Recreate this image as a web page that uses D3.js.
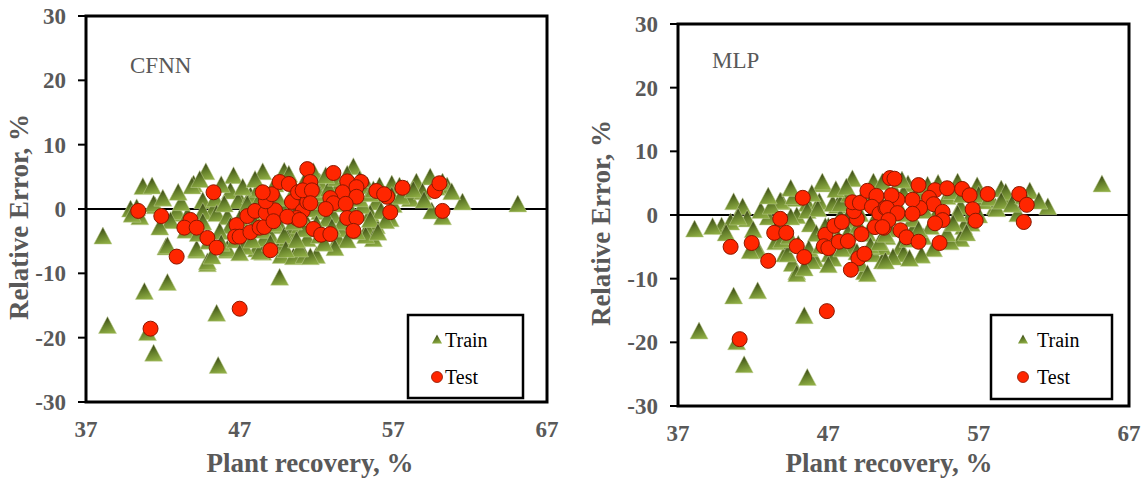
<!DOCTYPE html>
<html>
<head>
<meta charset="utf-8">
<title>Relative error vs plant recovery</title>
<style>
	body { margin: 0; background: #fff; }
	svg text { font-family: "Liberation Serif", "Times New Roman", serif; }
	.tick { fill: #595959; font-weight: bold; font-size: 23px; }
	.title { fill: #595959; font-weight: bold; font-size: 27px; }
	.model { fill: #595959; font-size: 23px; }
	.leg { fill: #000; font-size: 20px; }
</style>
</head>
<body>
<svg id="chart" width="1146" height="479"></svg>
<script src="https://cdn.jsdelivr.net/npm/d3@7"></script>
<script>
// ticks
const xTicks = [37, 47, 57, 67]
const yTicks = [-30, -20, -10, 0, 10, 20, 30]

// CFNN: [plant recovery %, relative error %]
const cfnnTrain = [
	[38.1,-4.4],[38.4,-18.3],[40.8,-13.0],[41.0,-19.4],[41.4,-22.6],[42.3,-11.6],[42.2,-6.1],[44.2,-6.6],
	[44.9,-8.7],[45.5,-16.4],[45.6,-24.5],[46.2,-6.6],[48.5,-6.9],[49.6,-10.8],[49.7,-7.4],[50.5,-7.6],
	[40.7,3.3],[41.3,3.4],[40.3,0.0],[41.5,0.3],[39.9,-0.2],[41.4,0.6],[40.5,-1.4],[43.0,-0.9],
	[44.0,3.7],[44.8,5.6],[46.6,5.0],[46.4,2.6],[48.5,5.6],[49.9,5.7],[44.6,1.1],[45.3,-0.2],
	[42.9,-0.6],[43.6,-1.2],[45.4,1.4],[47.0,1.4],[47.9,0.9],[47.5,-0.6],[43.9,3.4],[46.9,1.1],
	[44.6,-0.6],[45.5,-0.9],[46.2,-1.4],[44.6,-2.2],[42.3,-5.9],[44.2,-6.4],[46.2,-6.4],[44.9,-8.4],
	[48.1,-6.4],[48.3,-6.8],[49.6,-6.0],[51.2,-7.4],[47.7,1.9],[47.9,-1.2],[47.5,-4.3],[46.4,-2.8],
	[45.7,-3.7],[48.3,1.4],[49.6,-2.8],[50.3,-3.7],[50.9,-2.8],[49.0,-4.3],[50.1,-4.8],[51.4,-4.8],
	[50.5,0.9],[51.2,4.0],[54.4,6.4],[52.2,4.0],[55.3,3.4],[56.1,3.4],[56.9,3.7],[57.4,3.4],
	[58.5,4.0],[59.4,4.8],[60.5,3.4],[58.1,1.4],[58.9,2.5],[59.5,-0.5],[60.2,-1.4],[61.5,0.9],
	[55.9,0.9],[56.8,-1.7],[55.9,-2.8],[55.3,-3.3],[55.7,-4.8],[55.2,-4.3],[53.4,-4.8],[52.2,-4.3],
	[52.0,-7.4],[51.6,-7.6],[50.9,-6.4],[53.1,-1.2],[55.5,-0.9],[55.0,0.3],[53.5,-3.3],[52.2,-0.6],
	[54.2,-0.2],[54.6,-3.7],[53.7,-2.2],[52.7,-1.7],[51.4,-2.5],[56.9,1.9],[57.9,2.9],[65.1,0.6],
	[60.2,4.0],[47.5,0.6],[48.8,0.6],[49.8,-0.2],[50.6,-0.9],[49.3,-2.5],[48.6,-4.8],[49.9,-4.3],
	[51.2,-3.3],[50.9,1.4],[51.9,-0.2],[52.5,1.4],[53.4,0.6],[53.9,2.2],[54.8,1.4],[55.5,2.2],
	[48.0,-2.5],[47.0,-1.7],[46.0,0.6],[48.2,2.9],[49.3,3.7],[50.6,2.9],[52.2,2.2],[53.5,3.7],
	[42.0,1.5],[43.2,0.8],[43.5,-3.5],[44.3,-4.0],[45.0,-5.2],[45.8,-5.5],[46.7,-5.0],[47.3,-6.0],
	[47.8,-5.0],[48.5,-3.5],[49.0,-5.5],[50.0,-6.5],[50.7,-5.0],[51.0,-1.5],[51.6,1.0],[52.0,2.8],
	[52.8,3.0],[53.3,4.6],[54.0,5.2],[54.8,4.4],[55.7,2.8],[56.2,-0.5],[56.5,-2.0],[57.0,0.5],
	[57.5,1.8],[58.3,2.8],[59.0,1.2],[59.8,3.2],[60.8,2.5],[50.2,5.2],[51.8,5.6],[52.6,5.0],
	[47.2,3.2],[45.8,3.6],[44.4,4.4],[43.0,2.4],[42.5,-2.0],[41.8,-3.0],[40.0,-1.0],[46.9,-3.2],
	[48.9,-1.5],[50.5,-2.2],[52.0,-2.5],[53.0,-3.0],[54.0,-5.0],[53.2,-6.2],[52.5,-5.5],[55.5,-1.8],
	[56.0,-3.8],[49.5,1.5],[48.0,4.4],[47.0,-7.0],[45.2,-7.5]
]
const cfnnTest = [
	[40.4,-0.3],[41.9,-1.1],[45.3,2.6],[43.8,-1.7],[43.4,-2.9],[44.2,-2.9],[44.9,-4.5],[45.5,-6.0],
	[42.9,-7.4],[41.2,-18.6],[47.0,-15.5],[49.0,-6.4],[46.8,-2.5],[46.7,-4.3],[47.0,-4.3],[47.7,-3.6],
	[47.5,-1.1],[48.0,-0.3],[48.3,-2.9],[48.6,-2.8],[48.7,-0.6],[49.3,-0.2],[49.2,-1.9],[48.7,1.2],
	[49.1,2.3],[48.5,2.6],[49.6,4.2],[50.2,3.9],[50.4,1.1],[51.1,-0.3],[50.7,-1.4],[50.1,-1.2],
	[51.4,6.2],[50.8,2.6],[51.2,2.9],[51.4,1.1],[53.1,5.6],[51.6,4.2],[51.1,2.9],[51.7,2.9],
	[54.0,4.3],[54.9,4.2],[53.7,2.6],[54.6,3.4],[54.6,1.9],[51.6,0.9],[52.9,1.7],[53.1,0.9],
	[53.9,0.8],[52.6,0.0],[50.9,-1.7],[54.0,-1.4],[54.6,-1.4],[54.4,-3.4],[51.8,-3.1],[52.3,-4.0],
	[52.9,-3.9],[55.9,2.8],[56.6,1.9],[56.4,2.3],[57.6,3.3],[56.8,-0.5],[59.7,2.8],[60.0,4.0],[60.2,-0.3]
]

// MLP
const mlpTrain = [
	[38.4,-18.4],[40.7,-12.9],[40.9,-20.1],[41.4,-23.7],[42.3,-12.1],[45.4,-16.0],[45.6,-25.7],[44.9,-9.1],
	[44.1,-6.3],[46.1,-7.1],[42.3,-5.5],[49.4,-9.1],[38.1,-2.4],[40.7,1.9],[41.3,1.1],[41.6,-0.8],
	[39.9,-1.9],[40.5,-1.3],[43.0,-0.5],[43.9,1.9],[44.7,2.4],[46.6,4.7],[48.6,5.5],[45.6,1.6],
	[46.4,1.9],[47.6,1.3],[44.9,-0.3],[43.8,2.0],[44.7,2.7],[44.5,-0.5],[45.6,0.5],[46.3,0.8],
	[46.6,5.0],[50.0,5.0],[47.3,1.6],[47.8,-0.5],[45.8,-1.6],[46.2,-3.1],[45.9,-7.4],[44.6,-7.8],
	[44.3,-6.3],[44.9,-9.4],[43.5,-4.4],[43.9,-4.1],[42.3,-5.8],[41.8,-5.8],[49.1,-7.8],[49.6,-9.4],
	[50.0,-6.3],[50.6,-7.4],[50.9,-3.6],[48.6,-5.2],[47.1,-6.3],[47.6,-3.6],[50.6,-5.2],[49.6,-3.1],
	[52.3,4.7],[55.6,5.0],[56.9,4.4],[58.5,3.9],[58.1,1.1],[59.4,2.7],[60.4,3.6],[61.6,1.1],
	[59.6,0.0],[59.0,2.4],[55.8,1.1],[56.4,-0.5],[56.0,-2.0],[55.8,-3.9],[55.1,-4.4],[53.3,-3.6],
	[52.6,-2.7],[51.8,-5.2],[52.0,-6.3],[51.3,-6.8],[50.8,-7.4],[54.9,-3.1],[55.6,0.0],[54.2,0.0],
	[54.9,2.7],[57.3,2.0],[53.8,-2.0],[52.6,-0.8],[65.2,4.7],[58.2,0.8],[47.8,1.6],[49.1,0.0],
	[50.1,-0.8],[51.1,-2.4],[48.8,-2.4],[51.8,0.0],[52.8,1.6],[53.4,0.5],[50.4,2.4],[51.4,3.6],
	[49.4,3.1],[48.4,3.1],[57.0,3.0],[58.8,3.4],[53.5,2.6],[47.0,-2.0],[48.2,-1.0],
	[42.5,0.5],[43.2,1.2],[43.6,-2.0],[44.4,-3.5],[45.0,-4.8],[45.7,-5.5],[46.5,-5.0],[47.3,-7.0],
	[47.9,-5.5],[48.3,-3.0],[48.9,-6.0],[49.8,-5.0],[50.4,-4.5],[51.0,-0.5],[51.6,1.5],[52.0,3.2],
	[52.9,3.5],[53.6,4.5],[54.3,4.8],[55.2,3.5],[55.9,3.0],[56.5,-1.5],[57.0,-0.2],[57.7,2.5],
	[58.5,2.0],[59.2,1.5],[60.0,2.8],[61.0,2.0],[50.6,5.0],[51.9,5.3],[47.5,3.8],[45.9,3.2],
	[44.5,4.0],[43.0,2.8],[42.0,-2.5],[40.2,-3.0],[46.8,-2.0],[49.0,-1.8],[50.8,-3.2],[52.3,-4.0],
	[53.0,-2.5],[54.0,-5.5],[53.2,-6.5],[52.4,-7.0],[55.3,-1.5],[56.2,-3.0],[49.8,1.8],[48.2,4.2],
	[47.0,-8.0],[45.4,-8.5],[39.3,-2.0],[41.0,-0.5]
]
const mlpTest = [
	[40.5,-5.0],[41.9,-4.4],[43.0,-7.2],[43.8,-0.6],[43.4,-2.8],[44.2,-2.8],[44.9,-4.9],[45.4,-6.6],
	[45.3,2.7],[46.8,-3.1],[46.7,-4.9],[47.0,-5.2],[47.4,-1.7],[47.9,-1.1],[47.7,-4.2],[48.3,-4.1],
	[49.2,-3.0],[49.0,-6.8],[49.4,-6.1],[48.5,-8.6],[48.9,-0.6],[48.7,0.6],[48.6,2.0],[49.1,1.9],
	[49.6,3.8],[50.2,3.0],[49.9,1.3],[50.4,0.2],[50.8,1.1],[50.1,-1.9],[50.7,-2.0],[51.1,5.8],
	[46.9,-15.1],[41.1,-19.5],[51.4,5.7],[53.0,4.7],[54.1,3.9],[54.9,4.2],[55.9,4.1],[56.4,3.1],
	[57.6,3.3],[59.7,3.3],[60.2,1.6],[60.0,-1.1],[56.6,0.9],[56.8,-0.9],[53.7,2.7],[54.0,1.7],
	[53.1,1.1],[52.6,2.4],[51.6,2.4],[51.2,3.1],[50.9,1.1],[51.6,0.3],[52.6,0.2],[54.6,0.5],
	[54.6,-0.8],[54.1,-1.3],[51.0,-0.8],[50.6,-1.9],[51.8,-2.4],[52.2,-3.5],[53.0,-4.2],[54.4,-4.4]
]

const svg = d3.select("#chart")

// gradient for the triangle markers (dark apex, lighter base)
const grad = svg.append("defs").append("linearGradient")
	.attr("id", "tri").attr("x1", 0.2).attr("y1", 0).attr("x2", 0.5).attr("y2", 1)
grad.append("stop").attr("offset", "0%").attr("stop-color", "#2f3712")
grad.append("stop").attr("offset", "50%").attr("stop-color", "#607a28")
grad.append("stop").attr("offset", "100%").attr("stop-color", "#8cab42")

// triangle marker, a bit taller than equilateral like the original
function triPath(w, h) {
	const p = d3.path()
	p.moveTo(0, -h * 0.6); p.lineTo(w / 2, h * 0.4); p.lineTo(-w / 2, h * 0.4); p.closePath()
	return p.toString()
}
const bigTri = triPath(18, 17)
const smallTri = triPath(10, 9)

function panel(cfg) {
	const x = d3.scaleLinear().domain([37, 67]).range([cfg.left, cfg.right])
	const y = d3.scaleLinear().domain([-30, 30]).range([cfg.bottom, cfg.top])
	const g = svg.append("g")

	// y ticks
	g.selectAll(".yt").data(yTicks).enter().append("line")
		.attr("x1", cfg.left - 8).attr("x2", cfg.left)
		.attr("y1", d => y(d)).attr("y2", d => y(d))
		.attr("stroke", "#000").attr("stroke-width", 2)
	g.selectAll(".yl").data(yTicks).enter().append("text")
		.attr("class", "tick").attr("text-anchor", "end")
		.attr("x", cfg.left - 20).attr("y", d => y(d) + 8)
		.text(d => d)
	g.selectAll(".xl").data(xTicks).enter().append("text")
		.attr("class", "tick").attr("text-anchor", "middle")
		.attr("x", d => x(d)).attr("y", cfg.bottom + 35)
		.text(d => d)

	// zero line
	g.append("line")
		.attr("x1", x(37)).attr("x2", x(67)).attr("y1", y(0)).attr("y2", y(0))
		.attr("stroke", "#000").attr("stroke-width", 2)

	// points
	g.selectAll(".tr").data(cfg.train).enter().append("path")
		.attr("d", bigTri)
		.attr("transform", d => `translate(${x(d[0])},${y(d[1])})`)
		.attr("fill", "url(#tri)").attr("stroke", "#c2d196").attr("stroke-width", 0.5)
	g.selectAll(".te").data(cfg.test).enter().append("circle")
		.attr("cx", d => x(d[0])).attr("cy", d => y(d[1])).attr("r", 7.5)
		.attr("fill", "#ff2600").attr("stroke", "#8a1800").attr("stroke-width", 1)

	// frame
	g.append("rect")
		.attr("x", cfg.left).attr("y", cfg.top)
		.attr("width", cfg.right - cfg.left).attr("height", cfg.bottom - cfg.top)
		.attr("fill", "none").attr("stroke", "#000").attr("stroke-width", 3)

	g.append("text").attr("class", "model")
		.attr("x", cfg.left + cfg.labelDx).attr("y", cfg.labelY).text(cfg.name)

	// axis titles
	g.append("text").attr("class", "title").attr("text-anchor", "middle")
		.attr("x", cfg.xTitleX).attr("y", 472)
		.text("Plant recovery, %")
	g.append("text").attr("class", "title").attr("text-anchor", "middle")
		.attr("transform", `translate(${cfg.left - cfg.yTitleDx},${(cfg.top + cfg.bottom) / 2 + 8}) rotate(-90)`)
		.text("Relative Error, %")

	// legend
	const L = cfg.legend
	const lg = g.append("g")
	lg.append("rect").attr("x", L.x).attr("y", L.y).attr("width", L.w).attr("height", L.h)
		.attr("fill", "#fff").attr("stroke", "#000").attr("stroke-width", 2.5)
	lg.append("path").attr("d", smallTri)
		.attr("transform", `translate(${L.mx},${L.y + 25})`).attr("fill", "url(#tri)")
	lg.append("circle").attr("cx", L.mx).attr("cy", L.y + 62).attr("r", 5.5)
		.attr("fill", "#ff2600").attr("stroke", "#8a1800").attr("stroke-width", 0.8)
	lg.append("text").attr("class", "leg").attr("x", L.tx).attr("y", L.y + 32).text("Train")
	lg.append("text").attr("class", "leg").attr("x", L.tx).attr("y", L.y + 69).text("Test")
}

panel({
	name: "CFNN", left: 86, right: 547, top: 16, bottom: 402, labelDx: 44, labelY: 73,
	xTitleX: 310, yTitleDx: 58,
	train: cfnnTrain, test: cfnnTest,
	legend: { x: 408, y: 315, w: 115, h: 83, mx: 437, tx: 445 }
})
panel({
	name: "MLP", left: 678, right: 1129, top: 24, bottom: 406, labelDx: 34, labelY: 68,
	xTitleX: 889, yTitleDx: 68,
	train: mlpTrain, test: mlpTest,
	legend: { x: 991, y: 315, w: 121, h: 84, mx: 1023, tx: 1037 }
})
</script>
</body>
</html>
